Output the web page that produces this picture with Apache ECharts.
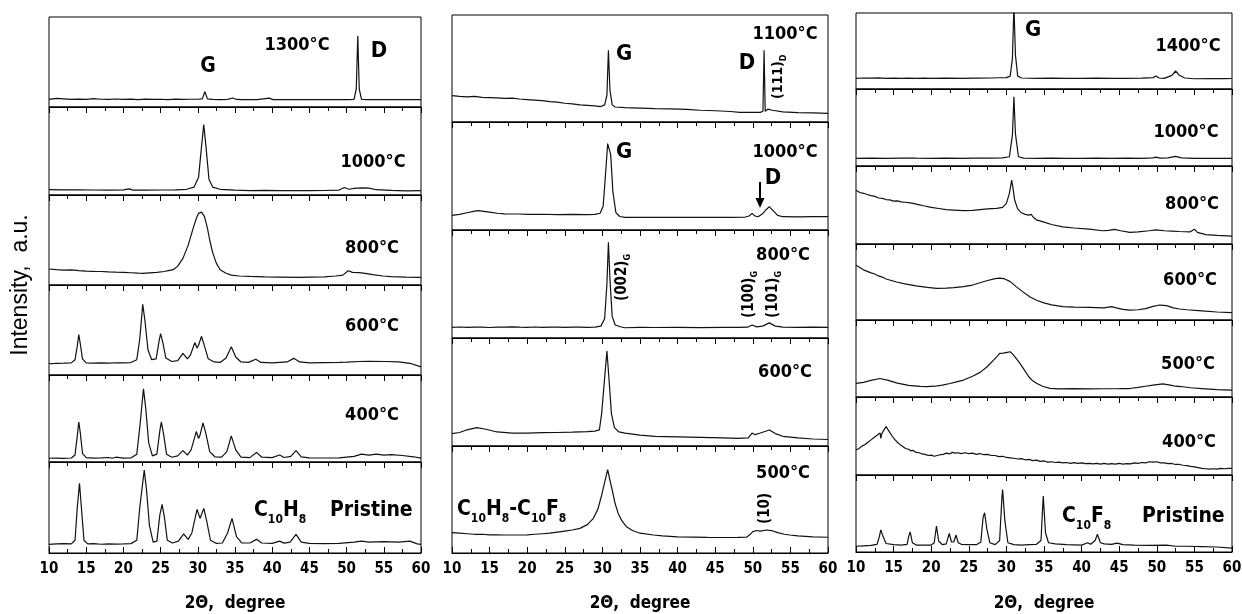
<!DOCTYPE html>
<html><head><meta charset="utf-8">
<script src="https://cdn.jsdelivr.net/npm/echarts@6/dist/echarts.min.js"></script>
<style>html,body{margin:0;padding:0;background:#fff}#c{width:1242px;height:614px}</style>
</head><body><div id="c"></div>
<script>
// ---------- data (2θ in degrees, intensity in % of each strip) ----------
const xTickLabels = [10, 15, 20, 25, 30, 35, 40, 45, 50, 55, 60];
const xAxisTitle = '2\u0398,  degree';
const yAxisTitle = 'Intensity,  a.u.';

// Panel 1: C10H8
const p1_1300 = [[10,8.5],[11,9.5],[12,9],[13,8.5],[14,8.8],[15,8.5],[16,9.2],[17,8.6],[18,8.4],[19,8.9],[20,8.5],[21,8.7],[22,8.3],[23,8.8],[24,8.4],[25,8.6],[26,8.2],[27,8.7],[28,8.4],[29,8.6],[30,8.6],[30.6,9],[30.95,17],[31.3,9],[32,8.5],[33,8.3],[34,8.4],[34.7,10],[35.2,8.4],[36,8.3],[38,8.2],[39.6,9.8],[40.1,8.2],[42,8.1],[44,8.2],[46,8.1],[48,8.1],[50,8.2],[51,8.5],[51.3,20],[51.5,79],[51.7,20],[52,8.5],[53,8.1],[55,8.1],[57,8.2],[60,8.2]];
const p1_1000 = [[10,6],[12,5.8],[14,5.9],[16,5.7],[18,5.6],[20,5.8],[20.8,7],[21.3,5.6],[23,5.6],[25,5.7],[27,5.9],[28.5,6.5],[29.5,9],[30.1,20],[30.5,55],[30.8,80],[31.1,55],[31.5,18],[32,9],[33,6.5],[35,5.5],[37,5],[39,5.2],[41,5],[43,5.1],[45,5],[47,5.1],[49,5.6],[49.7,8.5],[50.3,6.5],[51,7.5],[52,8.2],[53,7.8],[54,6],[56,5.2],[58,4.8],[60,5]];
const p1_800 = [[10,17.8],[11,17],[12,16.5],[13,16.8],[14,16],[15,15.5],[16,15.2],[17,15],[18,14.5],[19,14.2],[20,14],[21,13.6],[22,13.2],[22.6,13],[23.5,13.5],[24.5,14],[25.5,15],[26.2,16.2],[26.7,17],[27.3,21],[28,29.6],[28.7,44],[29.3,61],[29.8,74],[30.1,79.6],[30.5,81],[30.9,76],[31.3,63],[31.6,50],[32,36],[32.5,24],[33,17],[33.8,13],[34.5,11],[35.6,10],[37,9.5],[39,9],[41,8.8],[43.7,8.5],[45,8.7],[47,9],[48.5,10],[49.5,11],[50.2,15.9],[50.8,14],[51.7,13.7],[52.5,13],[53.5,11.5],[54.9,10],[56,9.3],[58,8.8],[59.8,8.5],[60,8.3]];
const p1_600 = [[10,12.5],[11,13],[12,13.2],[13,13.5],[13.5,17],[13.8,32],[14,45],[14.2,35],[14.5,18],[15,13.5],[16,13.2],[17,13.5],[18,13.3],[19,13.6],[20,13.4],[21,13.8],[21.8,17],[22.2,40],[22.6,78.5],[22.9,60],[23.3,28],[23.8,17],[24.4,18],[24.8,38],[25,46],[25.3,36],[25.7,19],[26.5,15],[27.3,16],[28,24],[28.6,18],[29,22],[29.6,36],[29.9,30],[30.1,33],[30.5,43],[30.9,32],[31.4,18],[32.2,14.5],[33,14],[33.8,19],[34.5,31.5],[35.1,20],[35.8,14.5],[36.8,14],[37.8,17.5],[38.5,14],[40,13.5],[42,14.5],[42.9,18.5],[43.7,14.5],[45,13.5],[47,13.8],[49,14],[50,14.3],[51.7,15],[53,15.2],[55.3,15],[57,14.5],[58.5,13],[60,9]];
const p1_400 = [[10,4.3],[11,4.5],[12,4.2],[13,4.6],[13.5,8],[13.8,30],[14,46],[14.2,34],[14.5,10],[15,5],[16,4.5],[17,4.8],[18,5.2],[18.5,4.3],[19,5.5],[20,4.4],[21,4.6],[21.8,9],[22.2,40],[22.7,84],[23,62],[23.4,22],[23.9,7],[24.5,9],[24.9,36],[25.1,46],[25.4,32],[25.8,9],[26.5,5.5],[27.3,7],[28,13],[28.6,8],[29.1,14],[29.8,35],[30.1,27],[30.3,31],[30.7,45],[31.1,32],[31.6,12],[32.3,6],[33.2,5.5],[33.9,12],[34.5,30],[35.1,14],[35.8,5.5],[37,5],[37.9,11],[38.6,5.5],[40,5],[41,8],[41.6,5.2],[42.5,6.5],[43.2,13],[43.9,6],[45,4.8],[47,4.6],[49,4.8],[51,6.5],[52,9],[53,8],[54,9],[55,8],[56,8.5],[57.5,7.5],[59,6],[60,4.5]];
const p1_pristine = [[10,9.5],[11,10],[12,10.3],[13,10],[13.5,14],[13.8,50],[14.1,76.6],[14.4,45],[14.7,14],[15.2,10],[16,10.2],[17,9.6],[18,10],[19,9.8],[20,10],[21,10.3],[21.8,14],[22.2,50],[22.8,91],[23.1,70],[23.5,30],[24,12],[24.5,13],[24.9,42],[25.2,53.5],[25.5,40],[25.9,14],[26.6,11],[27.4,13],[28.1,21],[28.7,15],[29.2,22],[29.9,48],[30.3,38],[30.8,49],[31.2,35],[31.7,14],[32.5,10.5],[33.3,11],[34,22],[34.6,38],[35.2,18],[35.9,11],[37,11],[37.9,15],[38.6,11],[40,10.5],[41,13],[41.6,10.8],[42.4,12],[43.2,20.5],[43.9,12],[45,10.5],[47,10.2],[49,10.5],[51,12],[52,13],[53,12],[55,12.5],[57,12],[58.5,13],[59.5,10],[60,9.5]];

// Panel 2: C10H8-C10F8
const p2_1100 = [[10,24.6],[11,24],[12,23.5],[13,24],[14,23],[15,22.8],[16,22.5],[17,22],[18,22.3],[19,21.5],[20,21],[21,20.5],[22,20],[23,19],[24,18.5],[25,17.5],[26,17],[27,16],[28,15.5],[29,15],[29.7,14.3],[30.3,16],[30.6,25],[30.8,67],[31.0,30],[31.3,16],[31.7,14],[33,13.5],[35,13],[37,12.5],[39,12.3],[41.2,11.8],[43,11],[45,10.5],[47,9.8],[48.3,9],[50,9],[51,9],[51.35,10],[51.5,67],[51.65,10],[52,12],[52.2,13.7],[52.6,11],[54,9.5],[56,8.8],[58,8.5],[60,8]];
const p2_1000 = [[10,13.5],[11,14.5],[12,16],[13,17.5],[13.5,17.9],[14,17.5],[15,16.5],[16,15.5],[17,15],[18,14.8],[19,14.8],[20,14.5],[22,14.6],[24,14.3],[26,14.4],[28,14.2],[29,14.5],[29.7,15.5],[30.1,22],[30.4,50],[30.7,80],[30.9,81.8],[31.1,70],[31.4,35],[31.8,16],[32.3,12.5],[33,11.7],[35,11.7],[38,11.8],[41,11.6],[44,11.8],[47,11.7],[49,12],[49.5,13],[49.9,15.4],[50.3,13],[50.7,12.3],[51.3,15],[51.8,19],[52.2,21.6],[52.7,18],[53.3,13.5],[54,12.3],[56,12.2],[58,12.3],[60,12.3]];
const p2_800 = [[10,9.9],[11,10.2],[12,9.8],[13,10.1],[14,10],[15,9.7],[16,10.1],[17,10],[18,10.3],[19,10],[20,9.9],[21,10.2],[22,9.9],[23,10],[24,10.1],[25,9.8],[26,10],[27,10.1],[28,9.9],[29,10],[29.8,11],[30.3,18],[30.6,50],[30.8,88.6],[31.0,55],[31.3,20],[31.7,12],[32.5,10.2],[33,9.5],[35,9.8],[37,9.7],[40,9.8],[43,9.6],[46,9.9],[48,9.8],[49.3,10],[49.9,12],[50.5,10.3],[51.3,11],[52.2,14],[53,11],[54,10],[56,9.9],[58,10],[60,9.9]];
const p2_600 = [[10,11.5],[11,12.5],[12,15],[13.3,17],[14.5,15.5],[16,13],[18,12],[20,12],[22,12.3],[24,12.5],[26,12.8],[28,13.3],[29,13.8],[29.6,15],[29.9,30],[30.2,55],[30.6,88],[30.9,60],[31.2,30],[31.6,17],[32.2,13],[33,12],[35,10],[37,9],[40,8.5],[43,8],[46,7.5],[48,7],[49.4,7.5],[49.9,12],[50.3,10.5],[51,12],[52.2,14.8],[53,11.5],[54,9],[56,7.5],[58,6.5],[60,6]];
const p2_500 = [[10,19],[11,18.5],[12,18],[13,17.5],[14,17.5],[15,17],[16,17],[17,16.8],[18,16.8],[19,16.8],[20,17],[21,17.5],[22,18],[23,18.5],[24,19.5],[25,20.5],[26,21.5],[27,23],[28,26.5],[28.8,32.4],[29.4,41],[29.9,54],[30.3,66],[30.7,78],[31.0,68],[31.3,59],[31.7,46],[32.1,37],[32.6,30],[33.2,24.6],[34,21],[35,18.5],[36.8,16.8],[38,16],[40,15],[42,14.8],[44,14.6],[46,14.5],[48,14.6],[49.2,14.9],[49.6,17],[50,20],[50.5,21],[51,20.5],[51.8,21.5],[52.5,21],[53.3,19],[54.2,17.5],[54.9,16.8],[56,16],[58,15],[60,14.7]];

// Panel 3: C10F8
const p3_1400 = [[10,14],[11,14.5],[12,14.2],[13,14.6],[14,14.1],[15,14.3],[16,14],[17,14.4],[18,14.1],[19,14.2],[20,14],[22,14.2],[24,14.1],[26,14.3],[28,14.5],[29,14.8],[30,15],[30.5,17],[30.8,40],[31.0,110],[31.2,45],[31.5,17],[32,14.5],[34,14],[36,14.2],[38,14.1],[40,14],[42,14.2],[44,14],[46,14.1],[48,14.3],[49.5,15],[49.9,17],[50.3,14.5],[51,14],[52,18],[52.5,23.7],[53,18],[53.7,14.5],[55,13.5],[57,13.8],[59,13.6],[60,13.8]];
const p3_1000 = [[10,10],[12,10.2],[14,10],[16,10.3],[18,10.1],[20,10],[22,10.2],[24,10],[26,10.1],[28,10.2],[29.5,10.5],[30.4,12],[30.8,40],[31.0,90],[31.2,42],[31.6,12],[32.3,10.2],[34,10],[36,10.1],[38,10],[40,10],[42,10.2],[44,10],[46,10.1],[48,10],[49.5,10.5],[49.9,11.5],[50.4,10.2],[51.5,10.5],[52.5,12.5],[53.3,10.5],[55,10],[57,9.8],[60,10]];
const p3_800 = [[10,69],[10.5,66],[11,65],[11.5,63.5],[12,62],[12.5,61],[13,59],[13.5,58.5],[14,57],[14.5,56.5],[15,55],[15.5,55.3],[16,54],[16.5,53.5],[17,53],[17.6,52],[18.3,50.5],[19,49],[20,47],[21,45.5],[22,44],[23,43.5],[24.3,42.7],[25.5,43],[26.5,44],[27.5,45],[28.7,45.7],[29.5,47],[30,52],[30.4,65],[30.7,82],[30.9,70],[31.1,56],[31.5,45],[32,40],[32.5,38],[33,37],[33.3,38],[33.6,34],[34,31],[35,28],[36,25],[37.5,22],[39,20.5],[41,19],[42.8,17],[43.6,17.5],[44.4,18.8],[45.2,17],[46.4,15],[47.5,15.5],[49,17],[49.9,18],[51,17],[52,16.5],[53,16],[54.4,15.5],[55,19],[55.4,15],[56.5,12],[58,11],[60,10]];
const p3_600 = [[10,72],[10.5,69],[11,66],[11.5,64],[12,62],[12.5,60.5],[13,58],[13.5,56.5],[14,54],[14.7,52],[15.4,50],[16.5,47.5],[18,45],[19.5,43],[20.7,41.7],[22,42],[23,42.5],[24.3,43.9],[25.5,46],[26.5,49],[27.5,52],[28.5,54.5],[29.1,55],[29.8,54],[30.5,50.5],[31.3,43.9],[32.2,37],[33.1,30.7],[34,26],[35,22.5],[36,20],[37.5,17.5],[39,17],[41,16.5],[43,16],[44,17.5],[44.6,16],[45.5,14],[46.4,13],[47.5,13.5],[48.5,15],[49.5,18],[50.4,19.7],[51.3,19],[52.2,16],[53,14.5],[54,13.5],[56,12],[58,10.5],[60,9.6]];
const p3_500 = [[10,17.8],[11,19],[12,21.5],[13.2,24],[14.3,21.5],[15.5,18],[17,15],[18.5,13.8],[19.4,13.4],[20.5,14],[21.5,15.5],[22.5,17.5],[23.5,20],[24.3,22],[25.5,27],[26.5,32],[27.4,39],[28.2,47],[28.8,53],[29.1,56.7],[29.6,57],[30.1,58],[30.5,58.8],[30.9,55],[31.4,49],[31.8,43.7],[32.4,35],[33,26],[33.5,21],[34,17.8],[34.8,14],[35.8,11.3],[37,10.5],[39,10.8],[41,10.5],[43,10.7],[45,10.8],[46.4,11],[47.5,12.5],[48.5,14],[49.5,15.5],[50.8,17],[51.8,15.5],[52.5,14],[53.2,13.6],[54.5,12],[56,11],[58,9.5],[60,9]];
const p3_400 = [[10,32],[10.2,30],[10.4,34],[10.6,33],[10.8,37],[11,36],[11.2,39],[11.4,38],[11.6,42],[11.8,41],[12,45],[12.2,44],[12.4,48],[12.6,47],[12.8,51],[13,50],[13.2,54],[13.3,47],[13.4,52],[13.6,56],[13.8,58],[14,62],[14.1,60],[14.2,63],[14.4,56],[14.6,54],[14.8,50],[15,49],[15.2,45],[15.4,46],[15.6,41],[15.8,40],[16,38],[16.3,36],[16.6,34],[17,33],[17.3,31],[17.6,31.5],[18,29],[18.4,28.5],[18.8,27],[19.2,26.5],[19.6,25],[20,25.5],[20.4,24],[20.8,25],[21.2,26],[21.6,26.5],[22,28],[22.4,27],[22.8,29],[23.2,28],[23.6,28.5],[24,27.5],[24.5,28.5],[25,27.5],[25.5,28],[26,26.5],[26.5,27.5],[27,26],[27.5,26.5],[28,25],[28.5,25],[29,23.5],[29.5,24],[30,22.5],[30.5,22],[31,21.5],[31.5,20.5],[32,21],[32.5,19.5],[33,20],[33.5,18.5],[34,19],[34.5,17.5],[35,18],[35.5,16.5],[36,17],[36.5,16],[37,16.5],[37.5,15.5],[38,16],[38.5,15],[39,15.8],[39.5,15],[40,15.5],[40.5,14.5],[41,15],[41.5,14.2],[42,15],[42.5,14],[43,14.8],[43.5,14],[44,14.6],[44.5,14],[45,14.8],[45.5,14],[46,14.5],[46.5,14.2],[47,15.5],[47.5,15],[48,16],[48.5,15.5],[49,17],[49.5,16.5],[50,17],[50.5,15.5],[51,15.5],[51.5,14.5],[52,14.8],[52.5,13.5],[53,13.5],[53.5,12.5],[54,12],[54.5,11],[55,10.5],[55.5,9.5],[56,8.5],[56.5,8],[57,7.5],[57.5,8],[58,7.5],[58.5,8.5],[59,8],[59.5,8.5],[60,8.5]];
const p3_pristine = [[10,7.5],[11,8],[12,8.5],[12.8,10],[13.1,20],[13.3,28.6],[13.6,20],[14,11],[15,9.5],[16,9],[16.8,10],[17.0,20],[17.2,26],[17.5,12],[18,9],[19,8.8],[20,9],[20.4,12],[20.7,33.8],[21,14],[21.5,9.5],[22,10.5],[22.4,24],[22.7,13],[23,13],[23.3,22],[23.6,12],[24,10],[25,9.5],[26,9.5],[26.6,13],[26.9,45],[27.1,51],[27.4,30],[27.8,12],[28.5,9.5],[29.1,15],[29.4,70],[29.5,81],[29.8,40],[30.2,12],[31,9.5],[32,9],[33,9.5],[34,10],[34.6,15],[34.9,72.7],[35.2,25],[35.6,12],[36.5,10.5],[38,9.5],[40,9],[40.8,12],[41.2,10],[41.8,15],[42.1,23],[42.5,12],[43,10.5],[44,10],[44.7,11.5],[45.5,9.5],[47,9],[49,8.5],[51.3,9],[52.5,7.5],[54,7.5],[56,7],[58,6.5],[60,5]];

const temps1 = ['1300°C','1000°C','800°C','600°C','400°C'];
const temps2 = ['1100°C','1000°C','800°C','600°C','500°C'];
const temps3 = ['1400°C','1000°C','800°C','600°C','500°C','400°C'];

// ---------- layout ----------
const panels = [
  {left: 49, right: 421, bounds: [17,107,195,285,375,462,553], data: [p1_1300,p1_1000,p1_800,p1_600,p1_400,p1_pristine]},
  {left: 452, right: 828, bounds: [15,122,230,338,446,553], data: [p2_1100,p2_1000,p2_800,p2_600,p2_500]},
  {left: 856, right: 1232, bounds: [13,89,166,244,320,397,475,552], data: [p3_1400,p3_1000,p3_800,p3_600,p3_500,p3_400,p3_pristine]}
];

const FF = '"DejaVu Sans Condensed", "DejaVu Sans", "Liberation Sans", sans-serif';
const grids = [], xAxes = [], yAxes = [], series = [];
let k = 0;
panels.forEach(p => {
  const n = p.data.length;
  p.data.forEach((arr, i) => {
    const last = i === n - 1;
    grids.push({left: p.left, width: p.right - p.left, top: p.bounds[i], height: p.bounds[i+1] - p.bounds[i],
      outerBoundsMode: 'none', containLabel: false,
      show: true, borderColor: '#000', borderWidth: 1, backgroundColor: 'transparent'});
    xAxes.push({gridIndex: k, type: 'value', min: xTickLabels[0], max: xTickLabels[xTickLabels.length-1], interval: 5,
      axisLine: {show: true, onZero: false, lineStyle: {color: '#000', width: 1}},
      axisTick: {show: true, inside: last, length: 6, lineStyle: {color: '#000', width: 1}},
      minorTick: {show: true, splitNumber: 2, length: 4, lineStyle: {color: '#000', width: 1}},
      splitLine: {show: false},
      axisLabel: {show: last, color: '#000', fontFamily: FF, fontWeight: 'bold', fontSize: 15, margin: 9}});
    yAxes.push({gridIndex: k, type: 'value', min: 0, max: 100, show: false});
    series.push({type: 'line', xAxisIndex: k, yAxisIndex: k, data: arr, showSymbol: false,
      lineStyle: {color: '#111', width: 1.2}});
    k++;
  });
});

// ---------- text helpers ----------
const cv = document.createElement('canvas').getContext('2d');
function fontStr(size) { return 'bold ' + size + 'px ' + FF; }
function measure(t, size) { cv.font = fontStr(size); return cv.measureText(t).width; }
function txt(text, x, y, size, align) {
  return {type: 'text', x: x, y: y, silent: true,
    style: {text: text, fill: '#000', fontFamily: FF, fontWeight: 'bold', fontSize: size,
      align: align || 'center', verticalAlign: 'middle'}};
}
function formula(parts, x, y, size) {
  const subSize = Math.round(size * 0.58);
  const els = [];
  let cx = x;
  parts.forEach(([t, sub]) => {
    const s = sub ? subSize : size;
    els.push(txt(t, cx, sub ? y + size * 0.42 : y, s, 'left'));
    cx += measure(t, s);
  });
  return els;
}
function rotLabel(main, sub, x, yBottom, size) {
  const w = measure(main, size);
  const subSize = Math.round(size * 0.62);
  const children = [txt(main, 0, 0, size, 'left')];
  if (sub) children.push(txt(sub, w, size * 0.38, subSize, 'left'));
  return {type: 'group', x: x, y: yBottom, rotation: Math.PI / 2, silent: true, children: children};
}

const graphics = [];
const tempPos1 = [[297,45],[373,162],[372,248],[372,326],[372,415]];
const tempPos2 = [[785,34],[785,152],[783,255],[785,372],[783,473]];
const tempPos3 = [[1188,46],[1186,132],[1192,204],[1190,280],[1188,364],[1189,442]];
temps1.forEach((t, i) => graphics.push(txt(t, tempPos1[i][0], tempPos1[i][1], 18)));
temps2.forEach((t, i) => graphics.push(txt(t, tempPos2[i][0], tempPos2[i][1], 18)));
temps3.forEach((t, i) => graphics.push(txt(t, tempPos3[i][0], tempPos3[i][1], 18)));
graphics.push(txt('G', 208, 67, 21));
graphics.push(txt('D', 379, 51, 22));
graphics.push(txt('G', 624, 54, 22));
graphics.push(txt('D', 747, 63, 22));
graphics.push(txt('G', 624, 152, 22));
graphics.push(txt('D', 773, 178, 22));
graphics.push(txt('G', 1033, 30, 22));
graphics.push({type: 'line', silent: true, shape: {x1: 760, y1: 182, x2: 760, y2: 200}, style: {stroke: '#000', lineWidth: 2}});
graphics.push({type: 'polygon', silent: true, shape: {points: [[755.5,198],[764.5,198],[760,208]]}, style: {fill: '#000'}});
graphics.push(rotLabel('(111)', 'D', 778, 99, 14));
graphics.push(rotLabel('(002)', 'G', 622, 301, 15));
graphics.push(rotLabel('(100)', 'G', 749, 318, 15));
graphics.push(rotLabel('(101)', 'G', 773, 318, 15));
graphics.push(rotLabel('(10)', '', 765, 524, 15));
formula([['C',0],['10',1],['H',0],['8',1]], 254, 511, 21).forEach(e => graphics.push(e));
graphics.push(txt('Pristine', 330, 511, 21, 'left'));
formula([['C',0],['10',1],['H',0],['8',1],['-',0],['C',0],['10',1],['F',0],['8',1]], 457, 510, 21).forEach(e => graphics.push(e));
formula([['C',0],['10',1],['F',0],['8',1]], 1062, 517, 21).forEach(e => graphics.push(e));
graphics.push(txt('Pristine', 1142, 517, 21, 'left'));
panels.forEach(p => graphics.push(txt(xAxisTitle, (p.left + p.right) / 2, 604, 17)));
graphics.push({type: 'text', x: 21, y: 285, rotation: Math.PI / 2, silent: true,
  style: {text: yAxisTitle, fill: '#000', fontFamily: '"Liberation Sans", Arial, sans-serif', fontWeight: 'normal', fontSize: 23,
    align: 'center', verticalAlign: 'middle'}});

const chart = echarts.init(document.getElementById('c'), null, {renderer: 'canvas'});
chart.setOption({animation: false, backgroundColor: '#fff', grid: grids, xAxis: xAxes, yAxis: yAxes, series: series,
  graphic: {elements: graphics}});
</script></body></html>
